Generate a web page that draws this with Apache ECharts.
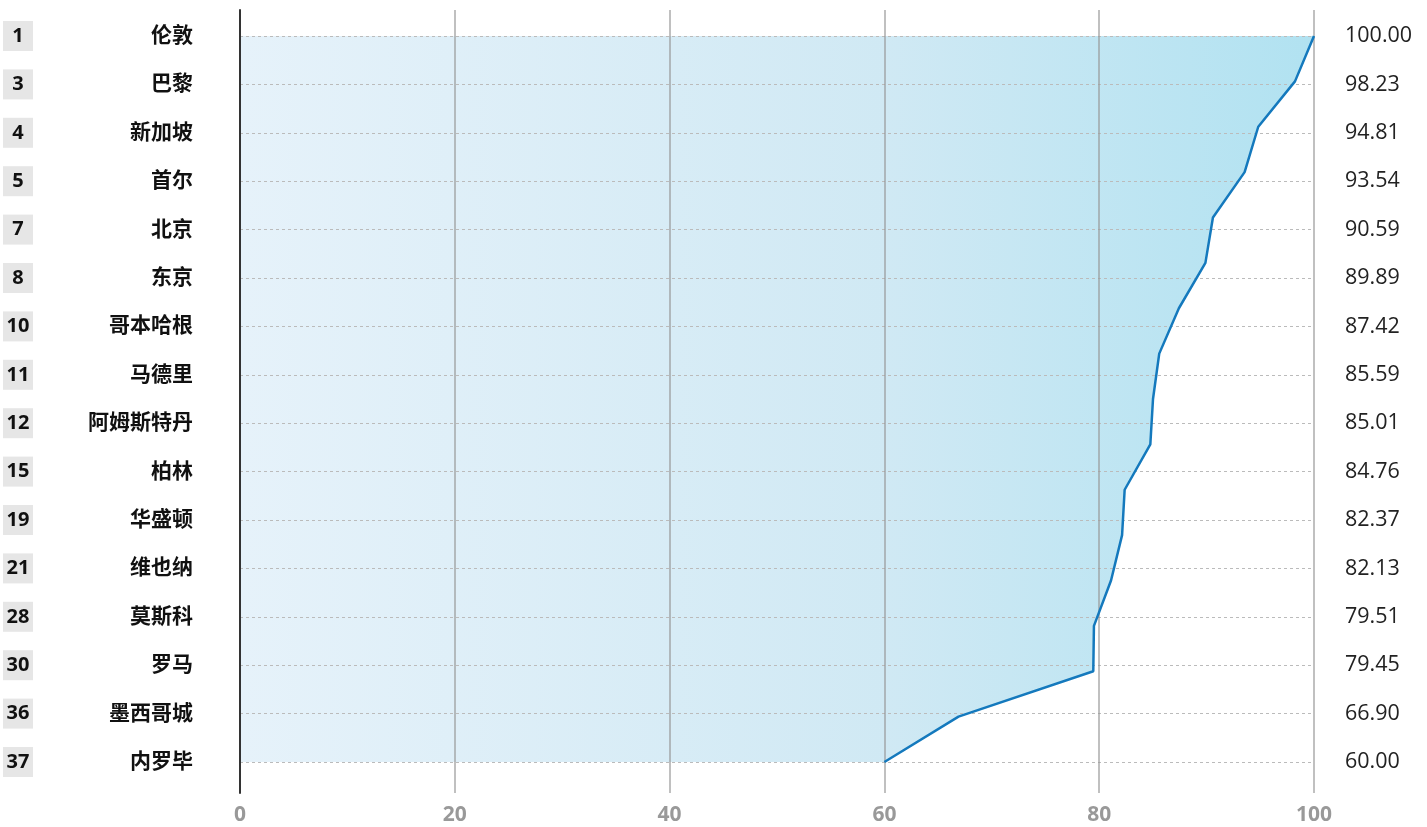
<!DOCTYPE html>
<html>
<head>
<meta charset="utf-8">
<script src="https://cdn.jsdelivr.net/npm/echarts@6/dist/echarts.min.js"></script>
<style>
html,body{margin:0;padding:0;background:#fff;}
#chart{width:1427px;height:827px;}
</style>
</head>
<body>
<div id="chart"></div>
<script>
const cities = ['伦敦','巴黎','新加坡','首尔','北京','东京','哥本哈根','马德里','阿姆斯特丹','柏林','华盛顿','维也纳','莫斯科','罗马','墨西哥城','内罗毕'];
const ranks = ['1','3','4','5','7','8','10','11','12','15','19','21','28','30','36','37'];
const scores = ['100.00','98.23','94.81','93.54','90.59','89.89','87.42','85.59','85.01','84.76','82.37','82.13','79.51','79.45','66.90','60.00'];
// line vertices as drawn (17 points)
const lineValues = [100, 98.23, 94.81, 93.54, 90.59, 89.89, 87.42, 85.59, 85.01, 84.76, 82.37, 82.13, 81.1, 79.51, 79.45, 66.90, 60];
const lineIndex = lineValues.map((v, i) => String(i));
const xTicks = [0, 20, 40, 60, 80, 100];

const FONT = "'Open Sans','Noto Sans CJK SC',sans-serif";
const chart = echarts.init(document.getElementById('chart'));
const labelText = cities.map((c, i) => ranks[i] + '\u0001' + c);

chart.setOption({
  animation: false,
  grid: [
    {left: 240, right: 113, top: 36, bottom: 65},
    {left: 240, right: 113, top: 10, bottom: 34}
  ],
  xAxis: [
    {gridIndex: 0, type: 'value', min: 0, max: 100, show: false},
    {gridIndex: 1, type: 'value', min: xTicks[0], max: xTicks[xTicks.length-1], interval: 20,
     z: 3,
     axisLine: {show: false}, axisTick: {show: false},
     splitLine: {show: true, lineStyle: {color: 'rgba(150,150,150,0.6)', width: 2}},
     axisLabel: {margin: 12, color: '#999', fontWeight: 'bold', fontSize: 21, fontFamily: FONT}}
  ],
  yAxis: [
    {gridIndex: 0, type: 'category', data: labelText, inverse: true, boundaryGap: false, z: 3,
     axisLine: {show: false}, axisTick: {show: false},
     splitLine: {show: true, lineStyle: {color: '#bbb', type: [3, 3], width: 1}},
     axisLabel: {
       margin: 47, fontFamily: FONT,
       formatter: function (v) { const p = v.split('\u0001'); return '{r|' + p[0] + '}{n|' + p[1] + '}'; },
       rich: {
         r: {width: 30, height: 30, align: 'center', backgroundColor: '#e6e6e6', fontWeight: 'bold', fontSize: 20, color: '#111', fontFamily: FONT},
         n: {width: 160, align: 'right', fontWeight: 'bold', fontSize: 21, color: '#111', fontFamily: FONT}
       }
     }},
    {gridIndex: 0, type: 'category', data: scores, inverse: true, boundaryGap: false, position: 'right',
     axisLine: {show: false}, axisTick: {show: false}, splitLine: {show: false},
     axisLabel: {margin: 31, align: 'left', fontSize: 21.5, color: '#222', fontFamily: FONT}},
    {gridIndex: 0, type: 'category', data: lineIndex, inverse: true, boundaryGap: false, show: false},
    {gridIndex: 1, type: 'value', min: 0, max: 1, z: 4,
     axisLine: {show: true, lineStyle: {color: '#333', width: 2}},
     axisTick: {show: false}, axisLabel: {show: false}, splitLine: {show: false}}
  ],
  series: [
    {type: 'line', xAxisIndex: 0, yAxisIndex: 2, data: lineValues, symbol: 'none', z: 1,
     lineStyle: {width: 0},
     areaStyle: {origin: 'start', opacity: 1, color: new echarts.graphic.LinearGradient(0, 0, 1, 0, [
       {offset: 0, color: '#e6f2fa'}, {offset: 0.6, color: '#d0e9f4'}, {offset: 1, color: '#b1e2f1'}])}},
    {type: 'line', xAxisIndex: 0, yAxisIndex: 2, data: lineValues, symbol: 'none', z: 5,
     lineStyle: {width: 2.5, color: '#1479bd'}}
  ]
});
</script>
</body>
</html>
